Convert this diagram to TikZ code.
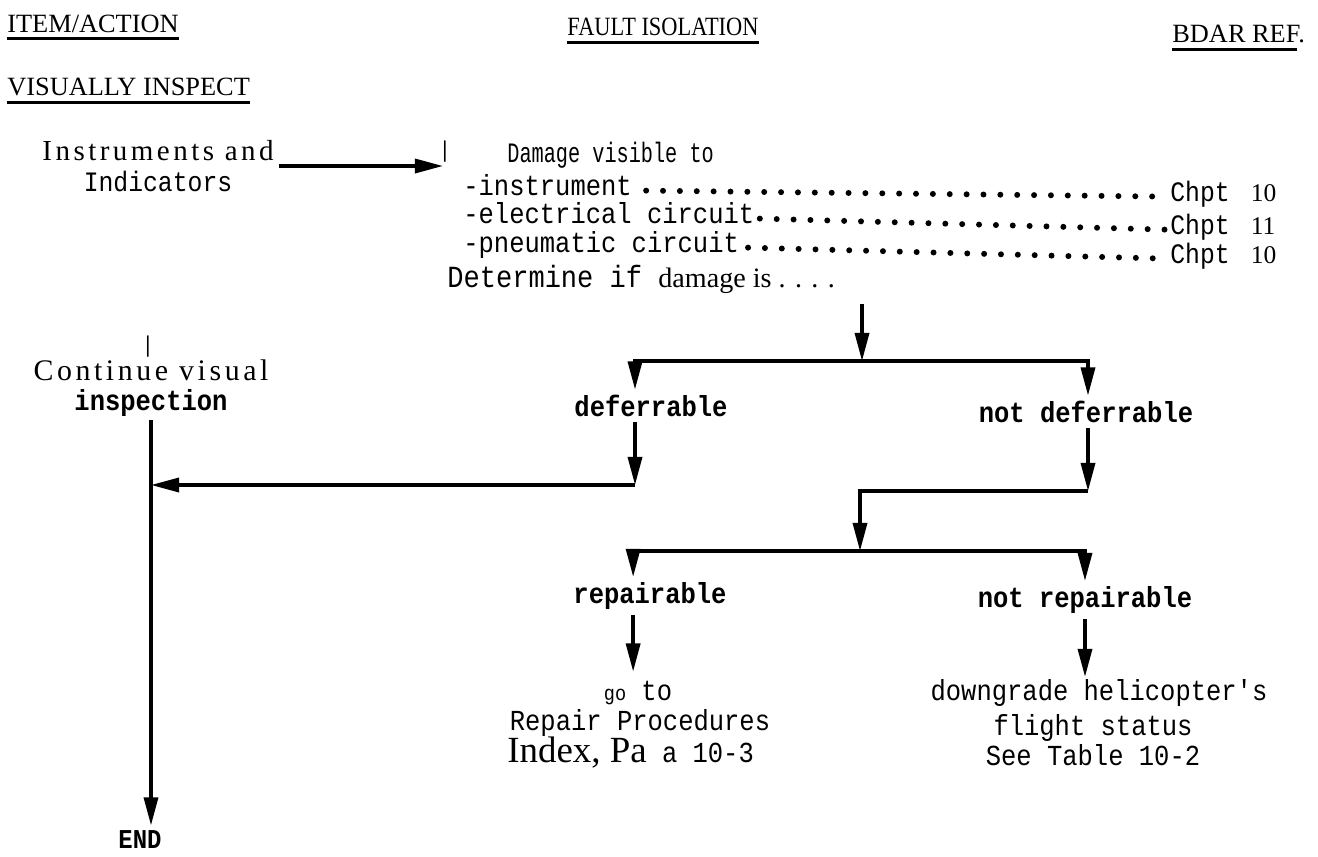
\documentclass[tikz,border=0pt]{standalone}
\usepackage{fontspec}
\setmainfont{Liberation Serif}
\newfontfamily\tty[FakeStretch=0.88]{Liberation Mono}
\newfontfamily\ttnarrow[FakeStretch=0.72]{Liberation Mono}
\newfontfamily\wideserif[LetterSpace=12]{Liberation Serif}
\newfontfamily\narrowserif[FakeStretch=0.85]{Liberation Serif}
\usetikzlibrary{arrows.meta}

\begin{document}
\begin{tikzpicture}[x=0.02cm,y=-0.02cm]
  \tikzstyle{head} = [font=\fontsize{15}{18}\selectfont, inner sep=0pt, anchor=base west]
  \tikzstyle{uline} = [line width=1.7pt]
  \tikzstyle{mono} = [font=\tty\fontsize{16.5}{19}\selectfont, inner sep=0pt]
  \tikzstyle{ref} = [font=\fontsize{14.5}{17}\selectfont, inner sep=0pt, anchor=base west]
  \tikzstyle{branch} = [font=\tty\bfseries\fontsize{16.5}{19}\selectfont, inner xsep=0pt, inner ysep=3pt]
  \tikzstyle{leader} = [line width=3.4pt, line cap=round, dash pattern=on 0pt off 9.6pt]
  \tikzstyle{arr} = [-{Triangle[length=16pt,width=8pt]}, line width=1.9pt]
  \useasboundingbox (0,0) rectangle (1318,856);

  % column heads
  \node[head] (hItem) at (7,32) {ITEM/ACTION};
  \node[head, anchor=base, font=\narrowserif\fontsize{15}{18}\selectfont] (hFault) at (663,35) {FAULT ISOLATION};
  \node[head] (hBdar) at (1172,42) {BDAR REF.};
  \node[head] (hVis) at (7,95) {VISUALLY INSPECT};
  \draw[uline] ([yshift=-3.5pt]hItem.base west) -- ([yshift=-3.5pt]hItem.base east);
  \draw[uline] ([yshift=-4.5pt]hFault.base west) -- ([yshift=-4.5pt]hFault.base east);
  \draw[uline] ([yshift=-4.5pt]hBdar.base west) -- ([xshift=-5pt,yshift=-4.5pt]hBdar.base east);
  \draw[uline] ([yshift=-4pt]hVis.base west) -- ([yshift=-4pt]hVis.base east);

  % item and damage list
  \node[align=center, inner xsep=3pt, inner ysep=0pt, font=\fontsize{16}{18}\selectfont] (item) at (158,166)
    {{\wideserif\fontsize{16.5}{18}\selectfont Instruments and}\\{\tty\fontsize{16}{18}\selectfont Indicators}};
  \coordinate (inTip) at (443,166);
  \draw[arr] (item.east) -- (inTip);
  \node[inner sep=0pt, font=\tty\fontsize{13}{15}\selectfont] (tickA) at (445,152) {|};

  \node[inner sep=0pt, anchor=base west, font=\ttnarrow\fontsize{16}{19}\selectfont] (dmgHead) at (507,162) {Damage visible to};
  \node[mono, anchor=base west] (r1) at (463,195) {-instrument};
  \node[mono, anchor=base west] (r2) at (463,223) {-electrical circuit};
  \node[mono, anchor=base west] (r3) at (463,252) {-pneumatic circuit};
  \node[ref] (c1) at (1170,201) {{\tty\fontsize{16}{19}\selectfont Chpt}\hspace{12pt}10};
  \node[ref] (c2) at (1170,234) {{\tty\fontsize{16}{19}\selectfont Chpt}\hspace{12pt}11};
  \node[ref] (c3) at (1170,263) {{\tty\fontsize{16}{19}\selectfont Chpt}\hspace{12pt}10};
  \draw[leader] ([xshift=8pt,yshift=2.5pt]r1.base east) -- ([xshift=-3pt,yshift=2.5pt]c1.base west);
  \draw[leader] ([xshift=3pt,yshift=2.5pt]r2.base east) -- ([xshift=-3pt,yshift=2.5pt]c2.base west);
  \draw[leader] ([xshift=5pt,yshift=2.5pt]r3.base east) -- ([xshift=-3pt,yshift=2.5pt]c3.base west);
  \node[mono, anchor=base west, inner ysep=6pt, font=\tty\fontsize{17.5}{20}\selectfont] (det) at (447,287)
    {Determine if {\rmfamily\fontsize{16}{18}\selectfont damage is . . . .}};

  % decision branches
  \node[align=center, inner xsep=0pt, inner ysep=2pt, font=\fontsize{17}{17}\selectfont] (cont) at (151,388)
    {{\wideserif\fontsize{17}{17}\selectfont Continue visual}\\{\tty\bfseries\fontsize{16.5}{17}\selectfont inspection}};
  \node[inner sep=0pt, font=\tty\fontsize{13}{15}\selectfont] (tickB) at (148,347) {|};
  \node[branch, font=\tty\bfseries\fontsize{15.5}{18}\selectfont] (endn) at (140,840) {END};
  \node[branch] (defer) at (651,406) {deferrable};
  \node[branch] (notdefer) at (1086,412) {not deferrable};
  \node[branch] (repair) at (650,596) {repairable};
  \node[branch] (notrepair) at (1085,600) {not repairable};

  \node[mono, anchor=base, inner ysep=5pt] (go1) at (638,700) {{\fontsize{12}{14}\selectfont go} to};
  \node[mono, anchor=base] (go2) at (640,730) {Repair Procedures};
  \node[mono, anchor=base west] (go3) at (507,762) {{\rmfamily\fontsize{21}{24}\selectfont Index, Pa} a 10-3};
  \node[mono, anchor=base, inner ysep=1pt] (dg1) at (1099,700) {downgrade helicopter's};
  \node[mono, anchor=base] (dg2) at (1093,735) {flight status};
  \node[mono, anchor=base] (dg3) at (1093,765) {See Table 10-2};

  \coordinate (j1) at (862,361);
  \coordinate (j2) at (635,485);
  \coordinate (j3) at (1088,491);
  \coordinate (j4) at (860,551);

  \draw[arr] (det.south -| j1) -- (j1);
  \draw[arr] (j1) -| (j2 |- defer.north);
  \draw[arr] (j1) -| (j3 |- notdefer.north);
  \draw[arr] (j2 |- defer.south) -- (j2);
  \draw[arr] (j2) -- (j2 -| cont.south);
  \draw[arr] (cont.south) -- (cont.south |- endn.north);
  \draw[arr] (notdefer.south -| j3) -- (j3);
  \draw[arr] (j3) -| (j4);
  \draw[arr] (j4) -| ([xshift=-9.6pt]repair.north);
  \draw[arr] (j4) -| (notrepair.north);
  \draw[arr] ([xshift=-9.6pt]repair.south) -- ([xshift=-9.6pt]repair.south |- go1.north);
  \draw[arr] (notrepair.south) -- (notrepair.south |- dg1.north);
\end{tikzpicture}
\end{document}
